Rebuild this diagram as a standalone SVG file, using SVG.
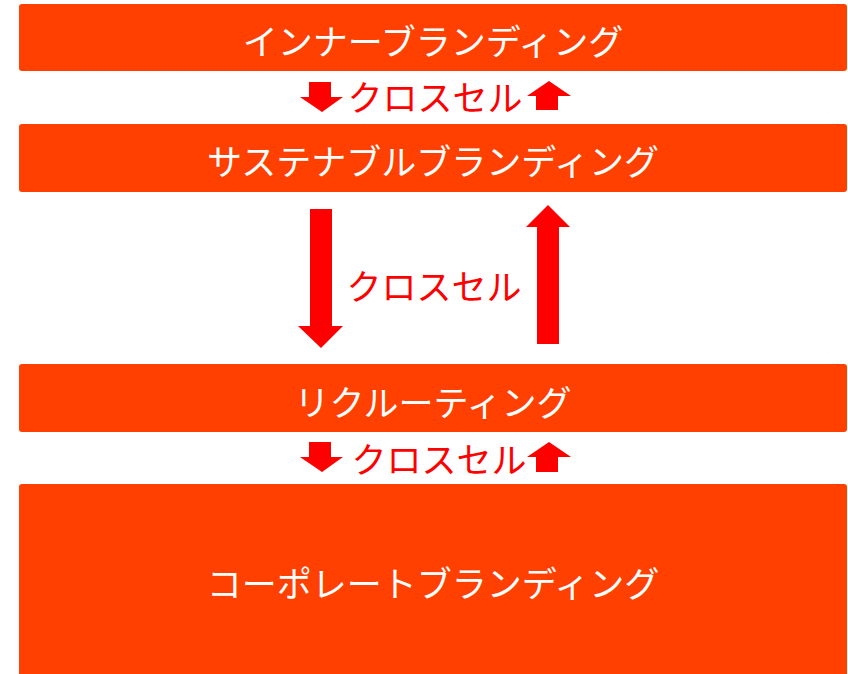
<svg xmlns="http://www.w3.org/2000/svg" width="848" height="674" viewBox="0 0 848 674">
<style>
.box{fill:#FF4000;}
.lbl{font-family:"Noto Sans CJK JP","Noto Sans",sans-serif;font-size:35px;fill:#FFFFFF;text-anchor:middle;}
.cs{font-family:"Noto Sans CJK JP","Noto Sans",sans-serif;font-size:35px;fill:#FF0000;text-anchor:middle;}
.arr{fill:#FF0000;}
</style>
<rect width="848" height="674" fill="#FFFFFF"/>
<g id="node-inner">
<rect class="box" x="19" y="4" width="828" height="67" rx="3"/>
<text class="lbl" x="433" y="55">インナーブランディング</text>
</g>
<g id="node-sustainable">
<rect class="box" x="19" y="124" width="828" height="68" rx="3"/>
<text class="lbl" x="433" y="175">サステナブルブランディング</text>
</g>
<g id="node-recruiting">
<rect class="box" x="19" y="364" width="828" height="68" rx="3"/>
<text class="lbl" x="433" y="416">リクルーティング</text>
</g>
<g id="node-corporate">
<rect class="box" x="19" y="484" width="828" height="200" rx="3"/>
<text class="lbl" x="433" y="597">コーポレートブランディング</text>
</g>
<g id="connectors">
<polygon class="arr" points="309,82 331,82 331,97 343,97 322,112 300,97 309,97"/>
<polygon class="arr" points="536,110 558,110 558,96 571,96 549,81 527,96 536,96"/>
<text class="cs" x="435" y="111">クロスセル</text>
<polygon class="arr" points="310,209 332,209 332,326 343,326 321,348 298,326 310,326"/>
<polygon class="arr" points="537,344 559,344 559,227 570,227 548,205 526,227 537,227"/>
<text class="cs" x="434" y="300">クロスセル</text>
<polygon class="arr" points="309,442 331,442 331,457 343,457 322,472 300,457 309,457"/>
<polygon class="arr" points="536,472 558,472 558,457 571,457 549,442 527,457 536,457"/>
<text class="cs" x="439" y="473">クロスセル</text>
</g>
</svg>
